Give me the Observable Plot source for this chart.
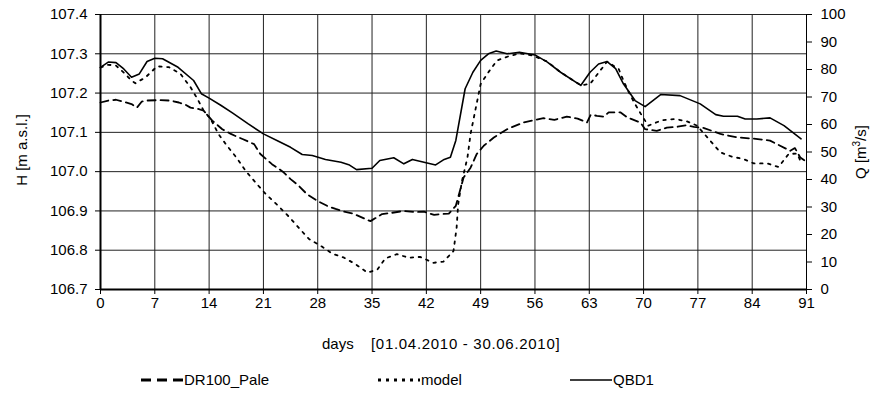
<!DOCTYPE html>
<html>
<head>
<meta charset="utf-8">
<script src="https://cdn.jsdelivr.net/npm/d3@7"></script>
<script src="https://cdn.jsdelivr.net/npm/@observablehq/plot@0.6"></script>
<style>
  html, body { margin: 0; padding: 0; background: #fff; }
  #wrap { position: relative; width: 880px; height: 400px; font-family: "Liberation Sans", Arial, sans-serif; color: #000; }
  .xl { position: absolute; top: 335px; font-size: 15px; white-space: nowrap; }
  .leg { position: absolute; top: 371px; font-size: 15px; display: flex; align-items: center; white-space: nowrap; }
  .leg svg { display: block; }
</style>
</head>
<body>
<div id="wrap"></div>
<script>
// ---- data ----
const xTicks = [0, 7, 14, 21, 28, 35, 42, 49, 56, 63, 70, 77, 84, 91];
const hTicks = [106.7, 106.8, 106.9, 107.0, 107.1, 107.2, 107.3, 107.4];
const qTicks = [0, 10, 20, 30, 40, 50, 60, 70, 80, 90, 100];

const drDays = [0,1,2,3,4,4.7,5.3,6,7.5,9,10.1,11,11.6,12.5,13.3,14.4,15.7,16.8,18.3,19.8,20.6,22.1,23.5,24.5,25.5,26.6,28,29.2,30.3,31.4,32.6,34.2,34.8,36.3,37.5,39.1,40.5,41.7,43,43.8,44.9,45.8,46.8,47.7,48.5,49.4,50.7,52.4,54.5,57.1,58.5,60.1,61.5,62.7,63.2,64,64.9,65.5,67,67.9,69.6,70.2,71.7,73,74.3,75.5,76.5,77.8,79.9,82.1,84.2,86.3,87.6,88.9,89.5,90.2,91];
const drH = [107.176,107.181,107.183,107.178,107.172,107.163,107.178,107.181,107.182,107.181,107.176,107.170,107.163,107.160,107.155,107.130,107.108,107.096,107.083,107.070,107.045,107.019,107.000,106.981,106.965,106.943,106.925,106.913,106.905,106.898,106.893,106.879,106.874,106.892,106.895,106.900,106.897,106.898,106.890,106.892,106.893,106.913,106.985,107.010,107.045,107.066,107.087,107.108,107.125,107.136,107.132,107.140,107.135,107.125,107.145,107.142,107.140,107.151,107.151,107.138,107.125,107.108,107.104,107.112,107.114,107.118,107.114,107.111,107.096,107.087,107.084,107.079,107.066,107.053,107.060,107.036,107.025];

const modelDays = [0,1,2,3,4,4.5,5.8,7.3,8.8,10.3,11.6,12.5,13.3,14.2,15.2,16.3,17.6,18.7,20,21.3,22.8,24.3,25.6,26.9,28.4,29.9,31.4,32.9,34.4,35.7,36.7,38.2,39.7,41.2,42.9,44.2,45.5,45.9,46.1,46.6,47.3,47.7,48.3,49,50,51.1,52.8,54.1,55.8,57.6,59.3,61.9,63.1,64.4,65.3,66.8,67.4,68.1,68.9,69.8,70.6,72.4,74.1,75.6,76.9,78.4,79.9,81.4,82.9,84.2,85.9,87.4,88.7,89.8,90.2];
const modelH = [107.265,107.272,107.270,107.252,107.232,107.225,107.240,107.268,107.266,107.249,107.215,107.185,107.155,107.134,107.096,107.066,107.034,107.002,106.972,106.943,106.915,106.885,106.856,106.828,106.811,106.791,106.781,106.764,106.743,106.751,106.779,106.790,106.781,106.783,106.768,106.771,106.798,106.857,106.917,106.977,107.036,107.096,107.155,107.223,107.253,107.283,107.295,107.301,107.295,107.280,107.253,107.220,107.223,107.257,107.280,107.261,107.232,107.202,107.172,107.142,107.117,107.131,107.134,107.128,107.117,107.083,107.049,107.038,107.032,107.021,107.021,107.012,107.045,107.046,107.028];

const qDays = [0,1,2,3,4,5,6,7,8,10,12,13,14,15.5,17,19,21,23,24.5,26,27.3,29,31,32,33,35,36,37.8,39.1,40.2,43.2,44.3,45.1,45.8,47,48,49,50,51,52.4,54,56,57.6,59.3,61.9,63.1,64.2,65.3,66.4,67.4,68.9,70.2,72.2,74.7,77.3,79.3,80.3,82.1,83.1,84.6,86.3,88.1,90.3];
const qValues = [80.8,82.7,82.5,80.2,77.2,78.4,82.9,84.1,83.9,80.8,76,71.2,69.6,67,64.2,60.3,56.6,53.8,51.7,49.1,48.7,47.3,46.3,45.4,43.6,44.1,46.9,47.9,45.7,47.3,45.3,47.3,48.1,54.2,73,79,83.3,85.7,86.7,85.7,86.3,85.3,82.7,79,74.2,79,82,82.9,80.3,74.8,68.7,66.5,70.9,70.5,67.5,63.6,63,63,62,62,62.4,59.6,54.8];

const seriesNames = ["DR100_Pale", "model", "QBD1"];

// ---- build ----
const hMin = 106.7, hMax = 107.4, qMax = 100;
const q2h = q => hMin + q * (hMax - hMin) / qMax;
const h2q = h => (h - hMin) * qMax / (hMax - hMin);

const dr = drDays.map((d, i) => ({day: d, h: drH[i]}));
const model = modelDays.map((d, i) => ({day: d, h: modelH[i]}));
const qbd = qDays.map((d, i) => ({day: d, h: q2h(qValues[i])}));

const font = "Liberation Sans, Arial, sans-serif";

const chart = Plot.plot({
  width: 880,
  height: 318,
  marginLeft: 100,
  marginRight: 74,
  marginTop: 14,
  marginBottom: 29,
  style: {fontFamily: font, fontSize: "15px", color: "#000", background: "#fff"},
  x: {domain: [0, 91]},
  y: {domain: [hMin, hMax]},
  marks: [
    Plot.gridX(xTicks, {stroke: "#222", strokeOpacity: 1, strokeWidth: 1}),
    Plot.gridY(hTicks, {stroke: "#222", strokeOpacity: 1, strokeWidth: 1}),
    Plot.axisX(xTicks, {tickSize: 5, tickPadding: 3, tickFormat: d => String(d), label: null, stroke: "#000"}),
    Plot.axisY(hTicks, {anchor: "left", tickSize: 5, tickPadding: 8, tickFormat: d => d.toFixed(1), label: null}),
    Plot.axisY(qTicks.map(q2h), {anchor: "right", tickSize: 5, tickPadding: 9, tickFormat: h => String(Math.round(h2q(h))), label: null}),
    Plot.ruleX([0], {stroke: "#000", strokeWidth: 2}),
    Plot.ruleX([91], {stroke: "#000", strokeWidth: 1}),
    Plot.ruleY([hMin], {stroke: "#000", strokeWidth: 2}),
    Plot.line(dr, {x: "day", y: "h", stroke: "#000", strokeWidth: 1.8, strokeDasharray: "8,5", curve: "linear"}),
    Plot.line(model, {x: "day", y: "h", stroke: "#000", strokeWidth: 1.8, strokeDasharray: "2.5,5.5", curve: "linear"}),
    Plot.line(qbd, {x: "day", y: "h", stroke: "#000", strokeWidth: 1.6, curve: "linear"})
  ]
});

const wrap = document.getElementById("wrap");
wrap.appendChild(chart);

// axis titles (rotated)
const svg = d3.select(chart);
svg.append("text")
  .attr("transform", "translate(27,150) rotate(-90)")
  .attr("text-anchor", "middle")
  .attr("font-family", font).attr("font-size", 15)
  .text("H [m a.s.l.]");
const qt = svg.append("text")
  .attr("transform", "translate(866,152) rotate(-90)")
  .attr("text-anchor", "middle")
  .attr("font-family", font).attr("font-size", 15);
qt.append("tspan").text("Q [m");
qt.append("tspan").attr("dy", -6).attr("font-size", 10).text("3");
qt.append("tspan").attr("dy", 6).text("/s]");

// x label
const xl1 = document.createElement("div");
xl1.className = "xl";
xl1.style.left = "322px";
xl1.textContent = "days";
wrap.appendChild(xl1);
const xl2 = document.createElement("div");
xl2.className = "xl";
xl2.style.left = "371px";
xl2.style.letterSpacing = "0.7px";
xl2.textContent = "[01.04.2010 - 30.06.2010]";
wrap.appendChild(xl2);

// legend
const legendStyles = [
  {dash: "10,6", width: 3, left: 141},
  {dash: "3,5", width: 3, left: 378},
  {dash: null, width: 1.3, left: 570}
];
seriesNames.forEach((name, i) => {
  const it = legendStyles[i];
  const div = document.createElement("div");
  div.className = "leg";
  div.style.left = it.left + "px";
  const s = d3.create("svg").attr("width", 42).attr("height", 16);
  s.append("line").attr("x1", 0).attr("x2", 42).attr("y1", 8).attr("y2", 8)
    .attr("stroke", "#000").attr("stroke-width", it.width)
    .attr("stroke-dasharray", it.dash);
  div.appendChild(s.node());
  const t = document.createElement("span");
  t.textContent = name;
  t.style.marginLeft = "1px";
  div.appendChild(t);
  wrap.appendChild(div);
});
</script>
</body>
</html>
